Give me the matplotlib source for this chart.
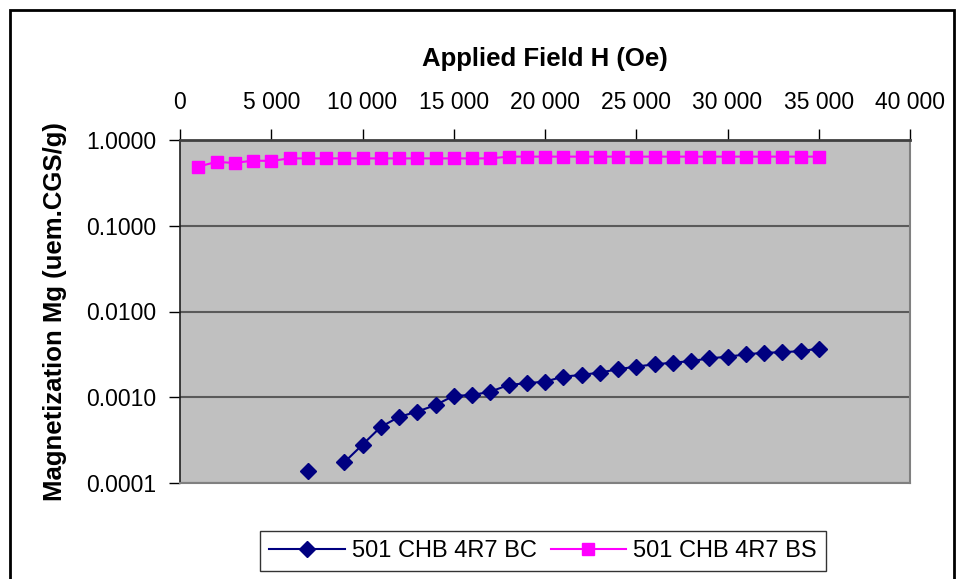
import numpy as np
import matplotlib
matplotlib.use("Agg")
import matplotlib.pyplot as plt
from matplotlib.ticker import FuncFormatter, FixedLocator
from matplotlib.patches import Rectangle

plt.rcParams['font.family'] = ['Liberation Sans', 'DejaVu Sans']

field = [1000, 2000, 3000, 4000, 5000, 6000, 7000, 8000, 9000, 10000,
         11000, 12000, 13000, 14000, 15000, 16000, 17000, 18000, 19000, 20000,
         21000, 22000, 23000, 24000, 25000, 26000, 27000, 28000, 29000, 30000,
         31000, 32000, 33000, 34000, 35000]

bc = [np.nan, np.nan, np.nan, np.nan, np.nan, np.nan, 0.000139, np.nan, 0.000174, 0.00028,
      0.00045, 0.00059, 0.00068, 0.00081, 0.00104, 0.00106, 0.00116, 0.00139, 0.00146, 0.00152,
      0.00174, 0.00182, 0.00194, 0.00212, 0.00228, 0.00242, 0.00253, 0.00264, 0.00284, 0.00297,
      0.00316, 0.00331, 0.00334, 0.00346, 0.00368]

bs = [0.49, 0.555, 0.54, 0.575, 0.57, 0.61, 0.61, 0.61, 0.61, 0.61,
      0.61, 0.61, 0.61, 0.61, 0.61, 0.61, 0.61, 0.64, 0.64, 0.64,
      0.64, 0.64, 0.64, 0.64, 0.64, 0.64, 0.64, 0.64, 0.64, 0.64,
      0.64, 0.64, 0.64, 0.64, 0.64]

series_names = ["501 CHB 4R7 BC", "501 CHB 4R7 BS"]
x_ticks = [0, 5000, 10000, 15000, 20000, 25000, 30000, 35000, 40000]
y_ticks = [0.0001, 0.001, 0.01, 0.1, 1.0]

W, H = 958, 579
fig = plt.figure(figsize=(W / 100, H / 100), dpi=100)

# outer frame
fig.patches.append(Rectangle((10 / W, -0.05), (954 - 10) / W, (H - 10) / H + 0.05,
                             transform=fig.transFigure, fill=False,
                             edgecolor='black', linewidth=2, zorder=0))

l, r, t, b = 180, 910, 140, 483
ax = fig.add_axes([l / W, 1 - b / H, (r - l) / W, (b - t) / H])
ax.set_facecolor('#C0C0C0')
ax.set_yscale('log')
ax.set_xlim(0, 40000)
ax.set_ylim(0.0001, 1.0)

ax.xaxis.set_major_locator(FixedLocator(x_ticks))
ax.yaxis.set_major_locator(FixedLocator(y_ticks))
ax.yaxis.set_minor_locator(FixedLocator([]))
ax.xaxis.tick_top()
ax.xaxis.set_label_position('top')
ax.xaxis.set_major_formatter(FuncFormatter(lambda v, p: f"{int(v):,}".replace(",", " ")))
ax.yaxis.set_major_formatter(FuncFormatter(lambda v, p: f"{v:.4f}"))
ax.tick_params(axis='x', which='major', direction='out', length=8, width=1,
               labelsize=16.5, pad=11, colors='black')
ax.tick_params(axis='y', which='major', direction='out', length=8, width=1,
               labelsize=16.5, pad=9, colors='black')
ax.tick_params(axis='y', which='minor', length=0)

ax.grid(True, axis='y', which='major', color='#5a5a5a', linewidth=1.5)
ax.set_axisbelow(True)

for s in ['bottom', 'right']:
    ax.spines[s].set_color('#808080')
    ax.spines[s].set_linewidth(1.5)
ax.spines['top'].set_color('#404040')
ax.spines['top'].set_linewidth(2)
ax.spines['left'].set_color('#202020')
ax.spines['left'].set_linewidth(1.2)

ax.plot(field, bc, color='#000080', marker='D', markersize=8, linewidth=1.5,
        label=series_names[0], clip_on=False, zorder=3)
ax.plot(field, bs, color='#FF00FF', marker='s', markersize=8.5, linewidth=1.5,
        label=series_names[1], clip_on=False, zorder=3)

ax.set_xlabel("Applied Field H (Oe)", fontsize=18.5, fontweight='bold', labelpad=18)
ax.set_ylabel("Magnetization Mg (uem.CGS/g)", fontsize=18.5, fontweight='bold', labelpad=14)

leg = fig.legend(loc='center', bbox_to_anchor=(543 / W, 1 - 551 / H), ncol=2,
                 fontsize=17, frameon=True, fancybox=False, edgecolor='black',
                 handlelength=3.2, handletextpad=0.3, columnspacing=0.6,
                 borderpad=0.4)
leg.get_frame().set_linewidth(1)

fig.savefig("out.png", dpi=100)
